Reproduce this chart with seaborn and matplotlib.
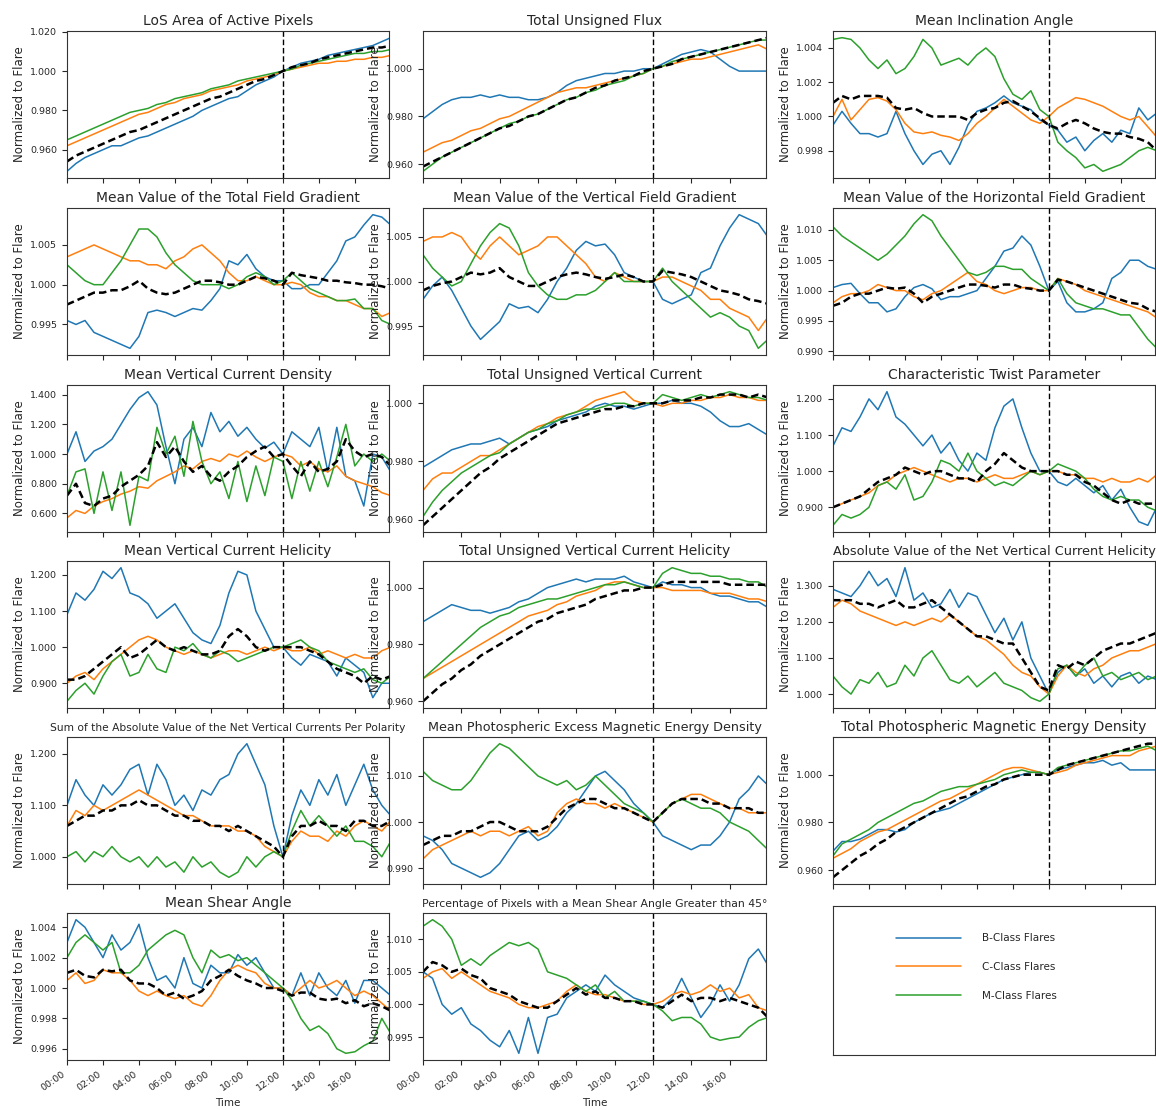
import numpy as np
import matplotlib
matplotlib.use("Agg")
import matplotlib.pyplot as plt
import seaborn as sns
from matplotlib.lines import Line2D
from matplotlib.ticker import FormatStrFormatter

# time axis: hours since start, 30 min steps; flare at 12:00
times = np.arange(37) * 0.5
flare_hour = 12
hour_ticks = [0, 2, 4, 6, 8, 10, 12, 14, 16]
hour_labels = ["00:00", "02:00", "04:00", "06:00", "08:00", "10:00", "12:00", "14:00", "16:00"]
class_labels = ["B-Class Flares", "C-Class Flares", "M-Class Flares"]

# LoS Area of Active Pixels
los_b = [0.949, 0.953, 0.956, 0.958, 0.960, 0.962, 0.962, 0.964, 0.966, 0.967, 0.969, 0.971, 0.973,
         0.975, 0.977, 0.980, 0.982, 0.984, 0.986, 0.987, 0.990, 0.993, 0.995, 0.997, 1.000,
         1.002, 1.004, 1.005, 1.006, 1.008, 1.009, 1.010, 1.011, 1.012, 1.013, 1.015, 1.017]
los_c = [0.962, 0.964, 0.966, 0.968, 0.970, 0.972, 0.974, 0.976, 0.978, 0.979, 0.981, 0.983, 0.984,
         0.986, 0.987, 0.988, 0.990, 0.991, 0.992, 0.993, 0.995, 0.996, 0.997, 0.998, 1.000,
         1.001, 1.002, 1.003, 1.004, 1.004, 1.005, 1.005, 1.006, 1.006, 1.007, 1.007, 1.008]
los_m = [0.965, 0.967, 0.969, 0.971, 0.973, 0.975, 0.977, 0.979, 0.980, 0.981, 0.983, 0.984, 0.986,
         0.987, 0.988, 0.989, 0.991, 0.992, 0.993, 0.995, 0.996, 0.997, 0.998, 0.999, 1.000,
         1.001, 1.003, 1.004, 1.005, 1.006, 1.007, 1.008, 1.009, 1.009, 1.010, 1.010, 1.011]
los_avg = [0.954, 0.957, 0.959, 0.961, 0.963, 0.965, 0.967, 0.969, 0.970, 0.972, 0.974, 0.976, 0.978,
           0.980, 0.982, 0.984, 0.986, 0.987, 0.989, 0.991, 0.993, 0.995, 0.996, 0.998, 1.000,
           1.002, 1.003, 1.004, 1.006, 1.007, 1.008, 1.009, 1.010, 1.011, 1.012, 1.012, 1.013]
los_ticks = [0.96, 0.98, 1.00, 1.02]

# Total Unsigned Flux
flux_b = [0.979, 0.982, 0.985, 0.987, 0.988, 0.988, 0.989, 0.988, 0.989, 0.988, 0.988, 0.987, 0.987,
          0.988, 0.990, 0.993, 0.995, 0.996, 0.997, 0.998, 0.998, 0.999, 0.999, 1.000, 1.000,
          1.002, 1.004, 1.006, 1.007, 1.008, 1.007, 1.004, 1.001, 0.999, 0.999, 0.999, 0.999]
flux_c = [0.965, 0.967, 0.969, 0.970, 0.972, 0.974, 0.975, 0.977, 0.979, 0.980, 0.982, 0.984, 0.986,
          0.988, 0.990, 0.991, 0.992, 0.992, 0.993, 0.994, 0.995, 0.996, 0.997, 0.998, 1.000,
          1.001, 1.002, 1.003, 1.004, 1.004, 1.005, 1.006, 1.007, 1.008, 1.009, 1.010, 1.008]
flux_m = [0.957, 0.960, 0.963, 0.965, 0.967, 0.969, 0.971, 0.973, 0.975, 0.977, 0.978, 0.980, 0.981,
          0.983, 0.985, 0.987, 0.988, 0.990, 0.991, 0.993, 0.994, 0.995, 0.997, 0.998, 1.000,
          1.001, 1.003, 1.004, 1.005, 1.006, 1.007, 1.008, 1.009, 1.010, 1.011, 1.012, 1.012]
flux_avg = [0.959, 0.961, 0.963, 0.965, 0.967, 0.969, 0.971, 0.973, 0.975, 0.976, 0.978, 0.980, 0.981,
            0.983, 0.985, 0.987, 0.988, 0.990, 0.992, 0.993, 0.995, 0.996, 0.997, 0.999, 1.000,
            1.001, 1.002, 1.004, 1.005, 1.006, 1.007, 1.008, 1.009, 1.010, 1.011, 1.012, 1.013]
flux_ticks = [0.96, 0.98, 1.00]

# Mean Inclination Angle
incl_b = [0.9995, 1.0003, 0.9996, 0.9990, 0.9990, 0.9988, 0.9990, 1.0003, 0.9990, 0.9980, 0.9972, 0.9978, 0.9980,
          0.9972, 0.9982, 0.9995, 1.0003, 1.0005, 1.0008, 1.0012, 1.0008, 1.0006, 1.0004, 0.9998, 0.9995,
          0.9992, 0.9985, 0.9988, 0.9980, 0.9986, 0.9990, 0.9985, 0.9992, 0.9990, 1.0005, 0.9998, 1.0002]
incl_c = [1.0000, 1.0010, 0.9998, 1.0004, 1.0010, 1.0011, 1.0009, 1.0004, 0.9996, 0.9991, 0.9990, 0.9991, 0.9989,
          0.9988, 0.9986, 0.9990, 0.9996, 1.0000, 1.0005, 1.0010, 1.0006, 1.0002, 0.9998, 0.9996, 1.0000,
          1.0005, 1.0008, 1.0011, 1.0010, 1.0008, 1.0006, 1.0003, 1.0000, 0.9998, 1.0000, 0.9994, 0.9988]
incl_m = [1.0045, 1.0046, 1.0045, 1.0040, 1.0033, 1.0028, 1.0033, 1.0025, 1.0028, 1.0035, 1.0045, 1.0040, 1.0030,
          1.0032, 1.0034, 1.0030, 1.0036, 1.0040, 1.0035, 1.0022, 1.0013, 1.0010, 1.0015, 1.0004, 1.0000,
          0.9985, 0.9980, 0.9976, 0.9970, 0.9972, 0.9968, 0.9970, 0.9972, 0.9976, 0.9980, 0.9982, 0.9980]
incl_avg = [1.0008, 1.0012, 1.0010, 1.0012, 1.0012, 1.0012, 1.0011, 1.0005, 1.0004, 1.0005, 1.0002, 1.0000, 1.0000,
            1.0000, 1.0000, 0.9998, 1.0002, 1.0004, 1.0005, 1.0008, 1.0009, 1.0006, 1.0003, 0.9999, 0.9995,
            0.9993, 0.9996, 0.9998, 0.9996, 0.9993, 0.9991, 0.9990, 0.9990, 0.9988, 0.9987, 0.9985, 0.9980]
incl_ticks = [0.998, 1.000, 1.002, 1.004]

# Mean Value of the Total Field Gradient
tgrad_b = [0.9955, 0.9950, 0.9955, 0.9940, 0.9935, 0.9930, 0.9925, 0.9920, 0.9935, 0.9965, 0.9968, 0.9965, 0.9960,
           0.9965, 0.9970, 0.9968, 0.9980, 0.9995, 1.0030, 1.0025, 1.0038, 1.0020, 1.0010, 1.0005, 1.0005,
           0.9995, 0.9995, 1.0000, 1.0000, 1.0015, 1.0030, 1.0055, 1.0060, 1.0075, 1.0088, 1.0085, 1.0075]
tgrad_c = [1.0035, 1.0040, 1.0045, 1.0050, 1.0045, 1.0040, 1.0035, 1.0030, 1.0030, 1.0025, 1.0025, 1.0020, 1.0030,
           1.0035, 1.0045, 1.0050, 1.0040, 1.0030, 1.0015, 1.0005, 1.0005, 1.0010, 1.0005, 1.0000, 1.0000,
           1.0003, 1.0000, 0.9990, 0.9985, 0.9985, 0.9980, 0.9980, 0.9975, 0.9970, 0.9970, 0.9960, 0.9965]
tgrad_m = [1.0025, 1.0015, 1.0005, 1.0000, 1.0000, 1.0015, 1.0030, 1.0050, 1.0070, 1.0070, 1.0060, 1.0040, 1.0025,
           1.0015, 1.0005, 1.0000, 1.0000, 1.0000, 0.9995, 1.0000, 1.0010, 1.0015, 1.0010, 1.0000, 1.0005,
           1.0015, 1.0005, 0.9995, 0.9990, 0.9985, 0.9980, 0.9980, 0.9982, 0.9970, 0.9970, 0.9955, 0.9950]
tgrad_avg = [0.9975, 0.9980, 0.9985, 0.9990, 0.9990, 0.9993, 0.9993, 0.9998, 1.0005, 0.9995, 0.9990, 0.9988, 0.9990,
             0.9995, 1.0000, 1.0005, 1.0005, 1.0003, 1.0000, 1.0000, 1.0005, 1.0010, 1.0008, 1.0005, 1.0000,
             1.0015, 1.0012, 1.0010, 1.0008, 1.0005, 1.0005, 1.0003, 1.0002, 1.0000, 1.0000, 0.9998, 0.9995]
tgrad_ticks = [0.995, 1.000, 1.005]

# Mean Value of the Vertical Field Gradient
vgrad_b = [0.9980, 0.9995, 1.0005, 0.9990, 0.9970, 0.9950, 0.9935, 0.9945, 0.9955, 0.9975, 0.9970, 0.9972, 0.9965,
           0.9980, 1.0000, 1.0015, 1.0035, 1.0045, 1.0040, 1.0042, 1.0030, 1.0010, 1.0005, 1.0000, 1.0000,
           0.9980, 0.9975, 0.9980, 0.9985, 1.0010, 1.0015, 1.0040, 1.0060, 1.0075, 1.0070, 1.0065, 1.0050]
vgrad_c = [1.0045, 1.0050, 1.0050, 1.0055, 1.0050, 1.0035, 1.0025, 1.0040, 1.0050, 1.0040, 1.0030, 1.0035, 1.0040,
           1.0050, 1.0050, 1.0040, 1.0030, 1.0020, 1.0005, 1.0000, 1.0010, 1.0005, 1.0000, 1.0000, 1.0000,
           1.0005, 1.0005, 1.0000, 0.9995, 0.9990, 0.9980, 0.9980, 0.9970, 0.9965, 0.9960, 0.9945, 0.9960]
vgrad_m = [1.0030, 1.0015, 1.0005, 0.9995, 1.0000, 1.0020, 1.0040, 1.0055, 1.0065, 1.0060, 1.0040, 1.0010, 0.9995,
           0.9985, 0.9980, 0.9980, 0.9985, 0.9985, 0.9990, 1.0000, 1.0010, 1.0000, 1.0000, 1.0000, 1.0000,
           1.0015, 1.0000, 0.9990, 0.9980, 0.9970, 0.9960, 0.9965, 0.9960, 0.9950, 0.9945, 0.9925, 0.9935]
vgrad_avg = [0.9990, 0.9995, 0.9998, 1.0000, 1.0005, 1.0010, 1.0008, 1.0010, 1.0015, 1.0005, 1.0000, 0.9995, 0.9995,
             1.0000, 1.0005, 1.0008, 1.0010, 1.0008, 1.0005, 1.0003, 1.0005, 1.0008, 1.0005, 1.0000, 1.0000,
             1.0012, 1.0010, 1.0008, 1.0005, 1.0000, 0.9995, 0.9990, 0.9988, 0.9985, 0.9980, 0.9978, 0.9975]
vgrad_ticks = [0.995, 1.000, 1.005]

# Mean Value of the Horizontal Field Gradient
hgrad_b = [1.0005, 1.0010, 1.0012, 0.9995, 0.9980, 0.9980, 0.9965, 0.9970, 0.9990, 1.0005, 1.0010, 1.0003, 0.9985,
           0.9990, 0.9990, 0.9995, 1.0000, 1.0020, 1.0040, 1.0065, 1.0070, 1.0090, 1.0075, 1.0040, 1.0000,
           1.0015, 0.9980, 0.9965, 0.9965, 0.9970, 0.9980, 1.0020, 1.0030, 1.0050, 1.0050, 1.0040, 1.0035]
hgrad_c = [0.9980, 0.9990, 0.9995, 0.9995, 1.0000, 1.0010, 1.0005, 1.0000, 1.0000, 0.9990, 0.9985, 0.9995, 1.0000,
           1.0010, 1.0020, 1.0030, 1.0015, 1.0010, 1.0000, 0.9995, 1.0000, 1.0005, 1.0005, 1.0000, 1.0000,
           1.0020, 1.0015, 1.0010, 1.0000, 0.9995, 0.9990, 0.9985, 0.9980, 0.9975, 0.9970, 0.9965, 0.9955]
hgrad_m = [1.0105, 1.0090, 1.0080, 1.0070, 1.0060, 1.0050, 1.0060, 1.0075, 1.0090, 1.0110, 1.0125, 1.0115, 1.0090,
           1.0070, 1.0050, 1.0030, 1.0025, 1.0030, 1.0040, 1.0040, 1.0035, 1.0035, 1.0020, 1.0010, 1.0000,
           1.0020, 0.9995, 0.9980, 0.9975, 0.9970, 0.9970, 0.9965, 0.9960, 0.9960, 0.9940, 0.9920, 0.9905]
hgrad_avg = [0.9975, 0.9980, 0.9990, 0.9995, 0.9995, 1.0000, 1.0005, 1.0003, 1.0005, 0.9995, 0.9980, 0.9990, 0.9995,
             1.0000, 1.0005, 1.0010, 1.0010, 1.0008, 1.0005, 1.0010, 1.0010, 1.0005, 1.0003, 1.0000, 1.0000,
             1.0018, 1.0015, 1.0010, 1.0005, 1.0000, 0.9995, 0.9990, 0.9985, 0.9980, 0.9978, 0.9970, 0.9965]
hgrad_ticks = [0.990, 0.995, 1.000, 1.005, 1.010]

# Mean Vertical Current Density
jz_b = [1.00, 1.15, 0.95, 1.02, 1.05, 1.10, 1.20, 1.30, 1.38, 1.42, 1.33, 1.05, 0.80,
        1.10, 1.18, 1.05, 1.28, 1.15, 1.22, 1.12, 1.18, 1.10, 1.04, 1.08, 1.00,
        1.15, 1.10, 1.05, 1.18, 0.88, 1.18, 0.85, 0.82, 0.65, 1.00, 0.98, 0.88]
jz_c = [0.57, 0.62, 0.60, 0.65, 0.68, 0.70, 0.73, 0.75, 0.78, 0.77, 0.82, 0.85, 0.88,
        0.92, 0.90, 0.95, 0.97, 0.95, 1.00, 0.98, 1.02, 0.98, 0.95, 0.98, 1.00,
        0.98, 0.92, 0.95, 0.90, 0.88, 0.92, 0.85, 0.82, 0.80, 0.78, 0.74, 0.72]
jz_m = [0.72, 0.88, 0.90, 0.60, 0.88, 0.62, 0.88, 0.52, 0.85, 0.82, 1.18, 1.00, 1.12,
        0.85, 1.22, 0.95, 0.80, 0.88, 0.70, 0.95, 0.68, 0.92, 0.72, 0.98, 0.95,
        0.70, 0.95, 0.75, 0.95, 0.78, 0.98, 1.20, 0.92, 1.00, 0.95, 1.00, 0.95]
jz_avg = [0.72, 0.80, 0.67, 0.65, 0.70, 0.72, 0.78, 0.82, 0.86, 0.92, 1.08, 0.98, 1.05,
          0.95, 0.88, 0.92, 0.85, 0.82, 0.88, 0.92, 0.98, 1.02, 1.05, 0.98, 1.00,
          0.92, 0.85, 0.95, 0.88, 0.90, 0.95, 1.10, 1.02, 0.98, 1.00, 0.98, 0.92]
jz_ticks = [0.6, 0.8, 1.0, 1.2, 1.4]

# Total Unsigned Vertical Current
jtot_b = [0.978, 0.980, 0.982, 0.984, 0.985, 0.986, 0.986, 0.987, 0.988, 0.986, 0.988, 0.990, 0.991,
          0.992, 0.994, 0.995, 0.996, 0.997, 0.999, 1.000, 0.999, 0.999, 0.998, 0.999, 1.000,
          1.000, 1.001, 1.000, 1.000, 0.999, 0.997, 0.994, 0.992, 0.992, 0.993, 0.991, 0.989]
jtot_c = [0.970, 0.974, 0.976, 0.976, 0.978, 0.980, 0.982, 0.982, 0.984, 0.986, 0.988, 0.990, 0.992,
          0.993, 0.995, 0.996, 0.997, 0.999, 1.001, 1.002, 1.003, 1.004, 1.001, 1.000, 1.000,
          0.999, 1.000, 1.000, 1.001, 1.001, 1.002, 1.002, 1.003, 1.002, 1.002, 1.001, 1.001]
jtot_m = [0.961, 0.966, 0.970, 0.973, 0.976, 0.978, 0.980, 0.982, 0.983, 0.986, 0.988, 0.990, 0.991,
          0.993, 0.994, 0.996, 0.997, 0.998, 0.998, 0.999, 1.000, 1.000, 0.999, 1.000, 1.000,
          1.003, 1.002, 1.001, 1.002, 1.003, 1.002, 1.003, 1.004, 1.003, 1.002, 1.002, 1.001]
jtot_avg = [0.958, 0.961, 0.964, 0.967, 0.970, 0.973, 0.976, 0.978, 0.981, 0.983, 0.985, 0.987, 0.989,
            0.991, 0.993, 0.994, 0.995, 0.996, 0.997, 0.998, 0.998, 0.999, 0.999, 1.000, 1.000,
            1.000, 1.001, 1.001, 1.001, 1.002, 1.002, 1.003, 1.003, 1.003, 1.002, 1.003, 1.002]
jtot_ticks = [0.96, 0.98, 1.00]

# Characteristic Twist Parameter
twist_b = [1.07, 1.12, 1.11, 1.15, 1.20, 1.17, 1.22, 1.15, 1.13, 1.10, 1.07, 1.10, 1.05,
           1.08, 1.03, 1.00, 1.05, 1.03, 1.12, 1.18, 1.20, 1.12, 1.05, 1.00, 1.00,
           0.97, 0.96, 0.98, 0.96, 0.94, 0.96, 0.92, 0.95, 0.90, 0.86, 0.85, 0.90]
twist_c = [0.90, 0.91, 0.92, 0.93, 0.94, 0.96, 0.97, 0.99, 1.00, 1.01, 1.00, 0.99, 0.98,
           0.97, 0.98, 0.98, 0.97, 0.98, 0.99, 0.98, 0.98, 0.99, 1.00, 0.99, 1.00,
           1.00, 0.99, 0.99, 0.98, 0.98, 0.97, 0.98, 0.97, 0.97, 0.98, 0.97, 0.99]
twist_m = [0.85, 0.88, 0.87, 0.88, 0.90, 0.96, 0.97, 0.95, 0.99, 0.92, 0.93, 0.97, 1.03,
           1.02, 1.00, 1.05, 1.00, 0.98, 0.96, 0.97, 0.96, 0.98, 1.00, 0.99, 1.00,
           1.02, 1.01, 1.00, 0.98, 0.95, 0.93, 0.92, 0.93, 0.92, 0.92, 0.90, 0.89]
twist_avg = [0.90, 0.91, 0.92, 0.93, 0.95, 0.97, 0.98, 0.99, 1.01, 1.00, 0.99, 1.00, 1.00,
             0.99, 0.98, 0.98, 0.97, 1.00, 1.02, 1.05, 1.03, 1.01, 1.00, 1.00, 1.00,
             1.00, 0.99, 0.99, 0.97, 0.96, 0.94, 0.92, 0.91, 0.92, 0.91, 0.91, 0.91]
twist_ticks = [0.9, 1.0, 1.1, 1.2]

# Mean Vertical Current Helicity
hel_b = [1.09, 1.15, 1.13, 1.16, 1.21, 1.19, 1.22, 1.15, 1.14, 1.12, 1.08, 1.10, 1.12,
         1.08, 1.04, 1.02, 1.01, 1.06, 1.15, 1.21, 1.20, 1.10, 1.05, 1.00, 1.00,
         0.97, 0.95, 0.98, 0.97, 0.96, 0.92, 0.97, 0.95, 0.93, 0.86, 0.90, 0.90]
hel_c = [0.90, 0.92, 0.93, 0.91, 0.94, 0.96, 0.98, 1.00, 1.02, 1.03, 1.02, 1.00, 0.99,
         0.98, 0.99, 0.98, 0.97, 0.98, 0.99, 0.99, 0.98, 0.99, 1.00, 0.99, 1.00,
         0.99, 0.99, 1.00, 0.98, 0.99, 0.98, 0.97, 0.98, 0.97, 0.97, 0.99, 1.00]
hel_m = [0.85, 0.88, 0.90, 0.87, 0.92, 0.96, 0.98, 0.92, 0.93, 0.98, 0.94, 0.93, 1.00,
         0.99, 1.01, 0.98, 0.97, 0.99, 0.98, 0.96, 0.97, 0.98, 0.99, 1.00, 1.00,
         1.01, 1.02, 1.00, 0.99, 0.96, 0.95, 0.94, 0.93, 0.94, 0.91, 0.90, 0.92]
hel_avg = [0.91, 0.91, 0.92, 0.94, 0.96, 0.98, 1.00, 0.97, 0.98, 1.00, 1.02, 1.00, 0.99,
           1.00, 0.99, 0.98, 0.98, 0.99, 1.03, 1.05, 1.03, 1.00, 0.99, 1.00, 1.00,
           1.00, 1.00, 0.99, 0.98, 0.96, 0.94, 0.93, 0.92, 0.90, 0.92, 0.91, 0.92]
hel_ticks = [0.9, 1.0, 1.1, 1.2]

# Total Unsigned Vertical Current Helicity
htot_b = [0.988, 0.990, 0.992, 0.994, 0.993, 0.992, 0.992, 0.991, 0.992, 0.993, 0.995, 0.996, 0.998,
          1.000, 1.001, 1.002, 1.003, 1.002, 1.003, 1.003, 1.003, 1.004, 1.002, 1.001, 1.000,
          1.002, 1.001, 1.001, 1.000, 1.000, 0.998, 0.997, 0.997, 0.996, 0.995, 0.995, 0.993]
htot_c = [0.968, 0.970, 0.972, 0.974, 0.976, 0.978, 0.980, 0.982, 0.984, 0.986, 0.988, 0.990, 0.991,
          0.992, 0.994, 0.995, 0.997, 0.998, 0.999, 1.001, 1.002, 1.002, 1.001, 1.000, 1.000,
          1.000, 0.999, 0.999, 0.999, 0.999, 0.998, 0.998, 0.998, 0.997, 0.996, 0.996, 0.995]
htot_m = [0.968, 0.971, 0.974, 0.977, 0.980, 0.983, 0.986, 0.988, 0.990, 0.991, 0.993, 0.994, 0.995,
          0.996, 0.996, 0.997, 0.998, 0.999, 1.000, 1.001, 1.001, 1.002, 1.001, 1.000, 1.000,
          1.005, 1.007, 1.006, 1.005, 1.005, 1.004, 1.004, 1.003, 1.003, 1.002, 1.002, 1.000]
htot_avg = [0.960, 0.963, 0.966, 0.968, 0.971, 0.973, 0.976, 0.978, 0.980, 0.982, 0.984, 0.986, 0.988,
            0.989, 0.991, 0.992, 0.993, 0.994, 0.996, 0.997, 0.998, 0.999, 0.999, 1.000, 1.000,
            1.001, 1.002, 1.002, 1.002, 1.002, 1.002, 1.002, 1.001, 1.001, 1.001, 1.001, 1.001]
htot_ticks = [0.96, 0.98, 1.00]

# Absolute Value of the Net Vertical Current Helicity
absh_b = [1.29, 1.28, 1.27, 1.30, 1.34, 1.30, 1.32, 1.27, 1.35, 1.26, 1.28, 1.24, 1.25,
          1.29, 1.24, 1.28, 1.27, 1.22, 1.17, 1.21, 1.15, 1.20, 1.10, 1.05, 1.00,
          1.06, 1.08, 1.05, 1.07, 1.03, 1.05, 1.02, 1.05, 1.06, 1.03, 1.05, 1.04]
absh_c = [1.24, 1.26, 1.25, 1.23, 1.22, 1.21, 1.20, 1.19, 1.20, 1.19, 1.20, 1.21, 1.20,
          1.22, 1.20, 1.18, 1.16, 1.15, 1.13, 1.11, 1.08, 1.06, 1.05, 1.02, 1.00,
          1.05, 1.08, 1.06, 1.05, 1.07, 1.08, 1.10, 1.11, 1.12, 1.12, 1.13, 1.14]
absh_m = [1.05, 1.02, 1.00, 1.04, 1.03, 1.06, 1.02, 1.03, 1.08, 1.05, 1.10, 1.12, 1.08,
          1.04, 1.03, 1.05, 1.02, 1.04, 1.06, 1.03, 1.02, 1.01, 0.99, 0.98, 1.00,
          1.07, 1.08, 1.05, 1.08, 1.10, 1.05, 1.06, 1.04, 1.05, 1.06, 1.04, 1.05]
absh_avg = [1.26, 1.26, 1.26, 1.25, 1.25, 1.24, 1.25, 1.26, 1.24, 1.24, 1.25, 1.26, 1.24,
            1.22, 1.20, 1.18, 1.16, 1.16, 1.15, 1.14, 1.14, 1.10, 1.06, 1.02, 1.01,
            1.08, 1.07, 1.09, 1.08, 1.10, 1.12, 1.13, 1.14, 1.14, 1.15, 1.16, 1.17]
absh_ticks = [1.0, 1.1, 1.2, 1.3]

# Sum of the Absolute Value of the Net Vertical Currents Per Polarity
sumj_b = [1.10, 1.15, 1.12, 1.10, 1.14, 1.12, 1.14, 1.17, 1.18, 1.12, 1.18, 1.15, 1.10,
          1.12, 1.09, 1.13, 1.12, 1.15, 1.16, 1.20, 1.22, 1.18, 1.14, 1.06, 1.00,
          1.08, 1.13, 1.10, 1.15, 1.12, 1.16, 1.10, 1.14, 1.18, 1.13, 1.10, 1.08]
sumj_c = [1.06, 1.09, 1.08, 1.10, 1.09, 1.10, 1.11, 1.12, 1.13, 1.12, 1.11, 1.10, 1.09,
          1.08, 1.08, 1.07, 1.06, 1.06, 1.06, 1.05, 1.05, 1.04, 1.02, 1.01, 1.00,
          1.03, 1.05, 1.04, 1.04, 1.03, 1.05, 1.04, 1.06, 1.07, 1.06, 1.05, 1.07]
sumj_m = [1.00, 1.01, 0.99, 1.01, 1.00, 1.02, 1.00, 0.99, 1.00, 0.98, 1.00, 0.98, 0.99,
          0.97, 1.00, 0.98, 0.99, 0.97, 0.96, 0.97, 1.00, 0.98, 1.00, 1.01, 1.00,
          1.05, 1.09, 1.06, 1.08, 1.06, 1.04, 1.06, 1.03, 1.03, 1.02, 1.00, 1.03]
sumj_avg = [1.06, 1.07, 1.08, 1.08, 1.09, 1.09, 1.10, 1.10, 1.11, 1.10, 1.10, 1.09, 1.08,
            1.08, 1.07, 1.07, 1.06, 1.06, 1.05, 1.06, 1.05, 1.04, 1.03, 1.02, 1.00,
            1.04, 1.06, 1.06, 1.07, 1.06, 1.06, 1.05, 1.07, 1.07, 1.06, 1.06, 1.07]
sumj_ticks = [1.0, 1.1, 1.2]

# Mean Photospheric Excess Magnetic Energy Density
exc_b = [0.997, 0.996, 0.994, 0.991, 0.990, 0.989, 0.988, 0.989, 0.991, 0.994, 0.997, 0.998, 0.996,
         0.997, 0.999, 1.002, 1.004, 1.007, 1.010, 1.011, 1.009, 1.007, 1.004, 1.002, 1.000,
         0.997, 0.996, 0.995, 0.994, 0.995, 0.995, 0.997, 1.000, 1.005, 1.007, 1.010, 1.008]
exc_c = [0.992, 0.994, 0.995, 0.996, 0.997, 0.998, 0.997, 0.998, 0.998, 0.997, 0.998, 0.999, 0.997,
         0.998, 1.002, 1.004, 1.005, 1.004, 1.004, 1.003, 1.004, 1.003, 1.002, 1.001, 1.000,
         1.002, 1.004, 1.005, 1.006, 1.006, 1.005, 1.004, 1.003, 1.003, 1.002, 1.002, 1.002]
exc_m = [1.011, 1.009, 1.008, 1.007, 1.007, 1.009, 1.012, 1.015, 1.017, 1.016, 1.014, 1.012, 1.010,
         1.009, 1.008, 1.009, 1.007, 1.008, 1.010, 1.008, 1.006, 1.004, 1.003, 1.002, 1.000,
         1.002, 1.004, 1.005, 1.004, 1.003, 1.003, 1.002, 1.000, 0.999, 0.998, 0.996, 0.994]
exc_avg = [0.995, 0.996, 0.997, 0.997, 0.998, 0.998, 0.999, 1.000, 1.000, 0.999, 0.998, 0.998, 0.998,
           0.999, 1.001, 1.003, 1.004, 1.005, 1.005, 1.004, 1.003, 1.003, 1.002, 1.001, 1.000,
           1.002, 1.004, 1.005, 1.005, 1.005, 1.004, 1.004, 1.003, 1.003, 1.003, 1.002, 1.002]
exc_ticks = [0.99, 1.00, 1.01]

# Total Photospheric Magnetic Energy Density
emag_b = [0.968, 0.972, 0.972, 0.973, 0.975, 0.977, 0.977, 0.976, 0.977, 0.980, 0.982, 0.984, 0.985,
          0.986, 0.988, 0.990, 0.992, 0.994, 0.996, 0.998, 0.999, 1.000, 1.001, 1.001, 1.000,
          1.002, 1.003, 1.004, 1.005, 1.005, 1.006, 1.004, 1.005, 1.002, 1.002, 1.002, 1.002]
emag_c = [0.965, 0.967, 0.969, 0.972, 0.974, 0.976, 0.977, 0.979, 0.981, 0.983, 0.985, 0.987, 0.989,
          0.990, 0.992, 0.994, 0.996, 0.998, 1.000, 1.002, 1.003, 1.003, 1.002, 1.001, 1.000,
          1.001, 1.002, 1.004, 1.005, 1.006, 1.007, 1.008, 1.008, 1.008, 1.010, 1.011, 1.012]
emag_m = [0.966, 0.971, 0.973, 0.975, 0.977, 0.980, 0.982, 0.984, 0.986, 0.988, 0.989, 0.991, 0.993,
          0.994, 0.995, 0.995, 0.996, 0.997, 0.998, 1.000, 1.001, 1.002, 1.001, 1.001, 1.000,
          1.003, 1.004, 1.005, 1.006, 1.007, 1.008, 1.009, 1.010, 1.010, 1.011, 1.012, 1.010]
emag_avg = [0.957, 0.960, 0.963, 0.966, 0.968, 0.971, 0.973, 0.976, 0.978, 0.980, 0.982, 0.984, 0.986,
            0.988, 0.990, 0.991, 0.993, 0.995, 0.996, 0.998, 0.999, 1.000, 1.000, 1.000, 1.000,
            1.002, 1.004, 1.005, 1.006, 1.007, 1.008, 1.009, 1.010, 1.011, 1.012, 1.013, 1.013]
emag_ticks = [0.96, 0.98, 1.00]

# Mean Shear Angle
shear_b = [1.0030, 1.0045, 1.0040, 1.0030, 1.0020, 1.0035, 1.0025, 1.0030, 1.0042, 1.0020, 1.0005, 1.0008, 1.0000,
           1.0020, 1.0003, 1.0000, 1.0015, 1.0010, 1.0010, 1.0022, 1.0015, 1.0020, 1.0010, 1.0000, 1.0000,
           0.9995, 1.0010, 0.9995, 1.0010, 1.0000, 0.9995, 1.0005, 0.9990, 1.0005, 1.0005, 1.0000, 0.9995]
shear_c = [1.0005, 1.0010, 1.0003, 1.0005, 1.0012, 1.0010, 1.0010, 1.0005, 0.9998, 0.9995, 0.9998, 0.9995, 0.9993,
           0.9995, 0.9990, 0.9988, 0.9995, 1.0005, 1.0012, 1.0015, 1.0012, 1.0010, 1.0003, 1.0000, 1.0000,
           0.9995, 1.0000, 1.0005, 1.0000, 1.0002, 1.0005, 1.0000, 0.9995, 0.9998, 0.9995, 0.9990, 0.9985]
shear_m = [1.0020, 1.0030, 1.0035, 1.0030, 1.0025, 1.0030, 1.0010, 1.0010, 1.0015, 1.0025, 1.0030, 1.0035, 1.0038,
           1.0035, 1.0020, 1.0010, 1.0025, 1.0020, 1.0022, 1.0018, 1.0020, 1.0015, 1.0010, 1.0005, 1.0000,
           0.9992, 0.9980, 0.9972, 0.9975, 0.9970, 0.9960, 0.9957, 0.9958, 0.9962, 0.9965, 0.9980, 0.9970]
shear_avg = [1.0010, 1.0012, 1.0008, 1.0007, 1.0012, 1.0011, 1.0012, 1.0005, 1.0003, 1.0003, 1.0000, 0.9995, 0.9997,
             0.9993, 0.9995, 0.9998, 1.0005, 1.0008, 1.0012, 1.0008, 1.0005, 1.0003, 1.0000, 1.0000, 0.9998,
             0.9995, 0.9997, 0.9997, 0.9993, 0.9992, 0.9993, 0.9990, 0.9992, 0.9988, 0.9990, 0.9988, 0.9985]
shear_ticks = [0.996, 0.998, 1.000, 1.002, 1.004]

# Percentage of Pixels with a Mean Shear Angle Greater than 45°
pct_b = [1.0050, 1.0040, 1.0000, 0.9985, 0.9995, 0.9970, 0.9960, 0.9945, 0.9935, 0.9960, 0.9925, 0.9980, 0.9925,
         0.9980, 0.9985, 1.0010, 1.0020, 1.0030, 1.0020, 1.0045, 1.0030, 1.0020, 1.0010, 1.0005, 1.0000,
         0.9995, 1.0010, 1.0040, 1.0010, 0.9980, 1.0000, 1.0030, 1.0005, 1.0030, 1.0070, 1.0085, 1.0060]
pct_c = [1.0040, 1.0050, 1.0055, 1.0040, 1.0050, 1.0040, 1.0030, 1.0020, 1.0015, 1.0010, 1.0000, 0.9995, 0.9995,
         1.0000, 1.0005, 1.0020, 1.0030, 1.0020, 1.0015, 1.0015, 1.0010, 1.0005, 1.0005, 1.0000, 1.0000,
         1.0005, 1.0015, 1.0020, 1.0015, 1.0020, 1.0030, 1.0020, 1.0025, 1.0010, 1.0015, 0.9995, 0.9990]
pct_m = [1.0120, 1.0130, 1.0120, 1.0100, 1.0060, 1.0070, 1.0060, 1.0075, 1.0085, 1.0095, 1.0090, 1.0095, 1.0085,
         1.0050, 1.0045, 1.0040, 1.0030, 1.0020, 1.0030, 1.0010, 1.0020, 1.0005, 1.0005, 1.0005, 1.0000,
         0.9990, 0.9975, 0.9980, 0.9980, 0.9970, 0.9950, 0.9945, 0.9948, 0.9950, 0.9965, 0.9975, 0.9980]
pct_avg = [1.0050, 1.0065, 1.0060, 1.0050, 1.0055, 1.0045, 1.0040, 1.0025, 1.0020, 1.0015, 1.0005, 1.0000, 0.9995,
           0.9995, 1.0005, 1.0015, 1.0025, 1.0015, 1.0020, 1.0010, 1.0010, 1.0005, 1.0005, 1.0000, 1.0000,
           0.9995, 1.0005, 1.0015, 1.0005, 1.0010, 1.0010, 1.0005, 1.0010, 1.0005, 1.0000, 0.9995, 0.9980]
pct_ticks = [0.995, 1.000, 1.005, 1.010]

panels = [
    ("LoS Area of Active Pixels", los_b, los_c, los_m, los_avg, los_ticks, 10),
    ("Total Unsigned Flux", flux_b, flux_c, flux_m, flux_avg, flux_ticks, 10),
    ("Mean Inclination Angle", incl_b, incl_c, incl_m, incl_avg, incl_ticks, 10),
    ("Mean Value of the Total Field Gradient", tgrad_b, tgrad_c, tgrad_m, tgrad_avg, tgrad_ticks, 10),
    ("Mean Value of the Vertical Field Gradient", vgrad_b, vgrad_c, vgrad_m, vgrad_avg, vgrad_ticks, 10),
    ("Mean Value of the Horizontal Field Gradient", hgrad_b, hgrad_c, hgrad_m, hgrad_avg, hgrad_ticks, 10),
    ("Mean Vertical Current Density", jz_b, jz_c, jz_m, jz_avg, jz_ticks, 10),
    ("Total Unsigned Vertical Current", jtot_b, jtot_c, jtot_m, jtot_avg, jtot_ticks, 10),
    ("Characteristic Twist Parameter", twist_b, twist_c, twist_m, twist_avg, twist_ticks, 10),
    ("Mean Vertical Current Helicity", hel_b, hel_c, hel_m, hel_avg, hel_ticks, 10),
    ("Total Unsigned Vertical Current Helicity", htot_b, htot_c, htot_m, htot_avg, htot_ticks, 10),
    ("Absolute Value of the Net Vertical Current Helicity", absh_b, absh_c, absh_m, absh_avg, absh_ticks, 9.3),
    ("Sum of the Absolute Value of the Net Vertical Currents Per Polarity", sumj_b, sumj_c, sumj_m, sumj_avg, sumj_ticks, 7.7),
    ("Mean Photospheric Excess Magnetic Energy Density", exc_b, exc_c, exc_m, exc_avg, exc_ticks, 9.2),
    ("Total Photospheric Magnetic Energy Density", emag_b, emag_c, emag_m, emag_avg, emag_ticks, 10),
    ("Mean Shear Angle", shear_b, shear_c, shear_m, shear_avg, shear_ticks, 10),
    ("Percentage of Pixels with a Mean Shear Angle Greater than 45°", pct_b, pct_c, pct_m, pct_avg, pct_ticks, 7.8),
]

sns.set_style("ticks")
plt.rcParams["font.family"] = ["DejaVu Sans"]

colors = ["#1f77b4", "#ff7f0e", "#2ca02c"]
W, H = 1156, 1110
col_edges = [(67, 389), (423, 766), (833, 1155)]
row_tops = [31, 208, 385, 561, 737, 913]
row_h = 147

fig = plt.figure(figsize=(W / 100, H / 100), dpi=100)


def add_box(left, right, top, bottom):
    return fig.add_axes([left / W, 1 - bottom / H, (right - left) / W, (bottom - top) / H])


for i, (title, b, c, m, avg, yt, tsize) in enumerate(panels):
    row, col = divmod(i, 3)
    left, right = col_edges[col]
    top = row_tops[row]
    ax = add_box(left, right, top, top + row_h)
    for vals, color in zip((b, c, m), colors):
        sns.lineplot(x=times, y=vals, ax=ax, color=color, linewidth=1.1)
    sns.lineplot(x=times, y=avg, ax=ax, color="black", linewidth=1.8, linestyle=(0, (3, 1.6)))
    ax.axvline(flare_hour, color="black", linewidth=1.0, linestyle=(0, (4, 2)))
    ax.set_xlim(0, 17.9)
    lo, hi = ax.get_ylim()
    ax.set_yticks(yt)
    ax.set_ylim(lo, hi)
    ax.yaxis.set_major_formatter(FormatStrFormatter("%.3f"))
    ax.set_xticks(hour_ticks)
    if row == 5:
        ax.set_xticklabels(hour_labels, rotation=35, ha="right")
        ax.set_xlabel("Time", fontsize=7.5)
    else:
        ax.set_xticklabels([])
    ax.set_ylabel("Normalized to Flare", fontsize=8.5, labelpad=3)
    ax.set_title(title, fontsize=tsize, pad=4)
    ax.tick_params(labelsize=6.8, length=3.5, width=0.8)
    for s in ax.spines.values():
        s.set_linewidth(0.8)
        s.set_color("#333333")

# legend box in the empty slot
lax = add_box(833, 1155, 906, 1055)
lax.set_xticks([])
lax.set_yticks([])
for s in lax.spines.values():
    s.set_linewidth(0.8)
    s.set_color("#333333")
handles = [Line2D([], [], color=cl, linewidth=1.1) for cl in colors]
lax.legend(handles, class_labels, loc="upper left", bbox_to_anchor=(0.165, 0.88), frameon=False,
           fontsize=7.5, handlelength=6.3, handletextpad=2.0, labelspacing=1.8)

fig.savefig("out.png", dpi=100)
